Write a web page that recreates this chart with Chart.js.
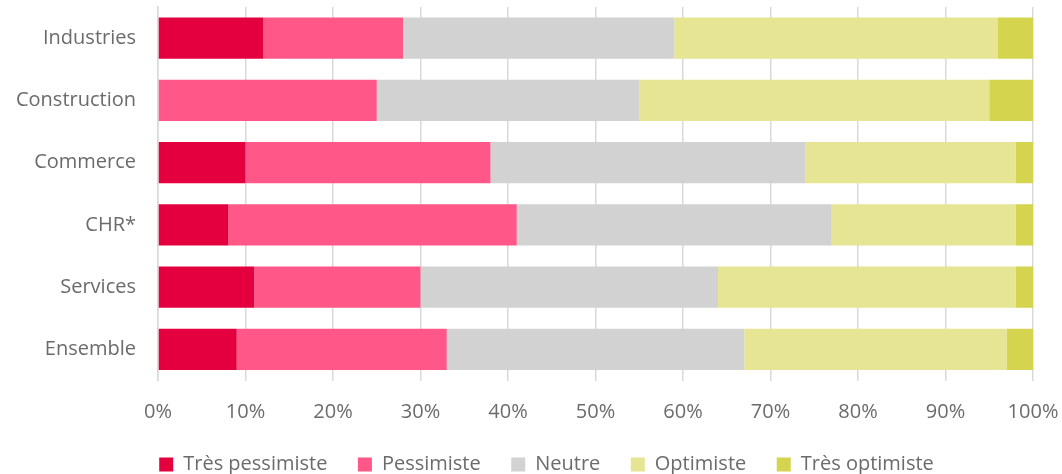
<!DOCTYPE html>
<html><head><meta charset="utf-8">
<script src="https://cdn.jsdelivr.net/npm/chart.js@4/dist/chart.umd.min.js"></script>
<style>html,body{margin:0;padding:0;background:#fff;}#wrap{width:1062px;height:474px;position:relative;}</style>
</head><body><div id="wrap"><canvas id="c"></canvas></div>
<script>
const categories = ["Industries","Construction","Commerce","CHR*","Services","Ensemble"];
const tresPessimiste = [12,0,10,8,11,9];
const pessimiste = [16,25,28,33,19,24];
const neutre = [31,30,36,36,34,34];
const optimiste = [37,40,24,21,34,30];
const tresOptimiste = [4,5,2,2,2,3];
const seriesNames = ["Très pessimiste","Pessimiste","Neutre","Optimiste","Très optimiste"];
const colors = ["#E4003F","#FF5787","#D1D2D1","#E5E594","#D4D44E"];
const values = [tresPessimiste,pessimiste,neutre,optimiste,tresOptimiste];
const font = "Open Sans";
const textColor = "#6B6B6B";
const legendShift = {
  id:'legendShift',
  afterLayout(chart){
    const lg = chart.legend; if(!lg) return;
    const h = lg.bottom - lg.top, w = lg.right - lg.left;
    lg.top = 424; lg.bottom = lg.top + h;
    lg.left += 30; lg.right = lg.left + w;
  }
};
new Chart(document.getElementById('c'),{
  type:'bar',
  data:{labels:categories,datasets:values.map((v,i)=>({label:seriesNames[i],data:v,backgroundColor:colors[i],borderWidth:0,barPercentage:0.66,categoryPercentage:1}))},
  options:{
    indexAxis:'y',responsive:true,maintainAspectRatio:false,animation:false,
    layout:{padding:{left:0,right:29,top:7,bottom:-11}},
    plugins:{legend:{position:'bottom',labels:{boxWidth:14,boxHeight:14,color:textColor,font:{family:font,size:20},padding:30.5}},tooltip:{enabled:false}},
    scales:{
      x:{stacked:true,min:0,max:100,ticks:{stepSize:10,callback:v=>v+'%',color:textColor,font:{family:font,size:20},padding:20},grid:{color:'#D9D9D9',lineWidth:1.5,drawTicks:false},border:{display:false},afterFit:s=>{s.height=44;s.paddingLeft=0;s.paddingRight=0;}},
      y:{stacked:true,ticks:{color:textColor,font:{family:font,size:20},padding:22},grid:{display:false,drawTicks:false},border:{color:'#D9D9D9',width:1.5},afterFit:s=>{s.width=158;s.paddingTop=0;s.paddingBottom=0;}}
    }
  },
  plugins:[legendShift]
});
</script></body></html>
